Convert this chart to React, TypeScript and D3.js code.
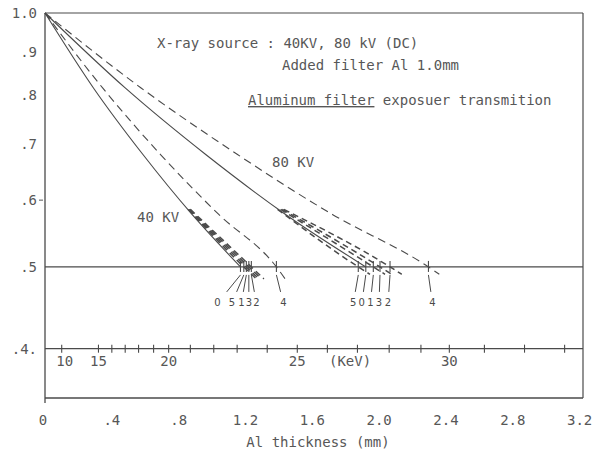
import React from "react";
import * as d3 from "d3";

const W = 597;
const H = 456;

// Transmission axis (log scale)
const transTicks = [1.0, 0.9, 0.8, 0.7, 0.6, 0.5, 0.4];
const transLabels = ["1.0", ".9", ".8", ".7", ".6", ".5", ".4."];

// Thickness axis
const thicknessTicks = [0, 0.4, 0.8, 1.2, 1.6, 2.0, 2.4, 2.8, 3.2];
const thicknessLabels = ["0", ".4", ".8", "1.2", "1.6", "2.0", "2.4", "2.8", "3.2"];

// Effective energy scale: keV value and its half-value thickness in Al (mm)
const kevValues = [10, 15, 16, 17, 18, 19, 20, 21, 22, 23, 24, 25, 26, 27, 28, 29, 30, 31, 32, 33];
const kevHalfValueMm = [0.1, 0.32, 0.4, 0.48, 0.56, 0.65, 0.74, 0.87, 1.01, 1.15, 1.33, 1.51, 1.69, 1.87, 2.06, 2.25, 2.42, 2.63, 2.87, 3.11];
const kevLabeled = [10, 15, 20, 25, 30];

// Transmission curves: [Al thickness mm, transmission]
const kv40Line0 = [[0, 1], [0.29, 0.815], [0.585, 0.68], [0.88, 0.577], [1.17, 0.5]];
const kv40Line5 = [[0.857, 0.585], [1.19, 0.5], [1.265, 0.484]];
const kv40Line1 = [[0.861, 0.585], [1.205, 0.5], [1.28, 0.484]];
const kv40Line3 = [[0.865, 0.585], [1.22, 0.5], [1.295, 0.484]];
const kv40Line2 = [[0.87, 0.585], [1.235, 0.5], [1.31, 0.484]];
const kv40Line4 = [[0, 1], [0.345, 0.815], [0.69, 0.68], [1.04, 0.577], [1.385, 0.5], [1.45, 0.48]];

const kv80Line0 = [[0, 1], [0.48, 0.815], [0.96, 0.68], [1.44, 0.577], [1.92, 0.5]];
const kv80Line5 = [[1.392, 0.585], [1.875, 0.5], [1.945, 0.49]];
const kv80Line1 = [[1.41, 0.585], [1.965, 0.5], [2.035, 0.49]];
const kv80Line3 = [[1.42, 0.585], [2.005, 0.5], [2.075, 0.49]];
const kv80Line2 = [[1.43, 0.585], [2.065, 0.5], [2.135, 0.49]];
const kv80Line4 = [[0, 1], [0.575, 0.815], [1.15, 0.68], [1.72, 0.577], [2.295, 0.5], [2.36, 0.49]];

const curveNames = ["0", "5", "1", "3", "2", "4", "5", "0", "1", "3", "2", "4"];

type Curve = { pts: number[][]; name: string; style: "solid" | "dash" | "bundle"; shift: number };

const curves: Curve[] = [
  { pts: kv40Line0, name: curveNames[0], style: "solid", shift: -23 },
  { pts: kv40Line5, name: curveNames[1], style: "bundle", shift: -12 },
  { pts: kv40Line1, name: curveNames[2], style: "bundle", shift: -5 },
  { pts: kv40Line3, name: curveNames[3], style: "bundle", shift: 0 },
  { pts: kv40Line2, name: curveNames[4], style: "bundle", shift: 5 },
  { pts: kv40Line4, name: curveNames[5], style: "dash", shift: 7 },
  { pts: kv80Line5, name: curveNames[6], style: "bundle", shift: -5 },
  { pts: kv80Line0, name: curveNames[7], style: "solid", shift: -4 },
  { pts: kv80Line1, name: curveNames[8], style: "bundle", shift: -3 },
  { pts: kv80Line3, name: curveNames[9], style: "bundle", shift: -1 },
  { pts: kv80Line2, name: curveNames[10], style: "bundle", shift: -2 },
  { pts: kv80Line4, name: curveNames[11], style: "dash", shift: 4 },
];

const INK = "#4a4a4a";
const TEXT = "#575757";
const MONO = "'DejaVu Sans Mono', 'Liberation Mono', monospace";

export default function App() {
  const x = d3.scaleLinear().domain([0, 3.22]).range([45, 583]);
  const y = d3.scaleLog().domain([1, 0.3496]).range([13, 398]);
  const line = d3
    .line<number[]>()
    .x((d) => x(d[0]))
    .y((d) => y(d[1]))
    .curve(d3.curveMonotoneX);

  const yHalf = y(0.5);
  const yKev = y(0.4);
  const left = x(0);
  const right = x(3.22);
  const top = y(1);
  const bottom = y(0.3496);

  return (
    <svg width={W} height={H} style={{ position: "absolute", left: 0, top: 0, background: "#fff" }}>
      <rect x={0} y={0} width={W} height={H} fill="#fff" />
      {/* frame */}
      <line x1={left} y1={top} x2={right} y2={top} stroke={INK} strokeWidth={1.2} />
      <line x1={right} y1={top} x2={right} y2={bottom} stroke={INK} strokeWidth={1.2} />
      <line x1={left} y1={top} x2={left} y2={bottom + 5} stroke={INK} strokeWidth={1.3} />
      <line x1={left} y1={bottom} x2={right} y2={bottom} stroke={INK} strokeWidth={1.3} />

      {/* 0.5 reference line */}
      <line x1={left} y1={yHalf} x2={right} y2={yHalf} stroke={INK} strokeWidth={1.1} />

      {/* keV scale */}
      <line x1={left} y1={yKev} x2={right} y2={yKev} stroke={INK} strokeWidth={1.3} />
      {kevValues.map((k, i) => (
        <line key={"kt" + k} x1={x(kevHalfValueMm[i])} x2={x(kevHalfValueMm[i])} y1={yKev - 4} y2={yKev + 4} stroke={INK} strokeWidth={1.1} />
      ))}
      {kevLabeled.map((k) => {
        const i = kevValues.indexOf(k);
        return (
          <text key={"kl" + k} x={x(kevHalfValueMm[i]) + (k === 10 ? 3 : 0)} y={yKev + 17} textAnchor="middle" fontFamily={MONO} fontSize={14} fill={TEXT}>
            {k}
          </text>
        );
      })}
      <text x={x(1.826)} y={yKev + 17} textAnchor="middle" fontFamily={MONO} fontSize={14} fill={TEXT}>
        (KeV)
      </text>

      {/* y tick labels */}
      {transTicks.map((t, i) => (
        <text key={"yl" + t} x={37} y={y(t) + 5} textAnchor="end" fontFamily={MONO} fontSize={14} fill={TEXT}>
          {transLabels[i]}
        </text>
      ))}
      <line x1={left - 6} x2={left - 2} y1={y(0.6)} y2={y(0.6)} stroke={TEXT} strokeWidth={1} />

      {/* x tick labels */}
      {thicknessTicks.map((t, i) => (
        <text key={"xl" + t} x={x(t) - (t === 0 ? 2 : 0)} y={425} textAnchor="middle" fontFamily={MONO} fontSize={14} fill={TEXT}>
          {thicknessLabels[i]}
        </text>
      ))}
      <text x={318} y={447} textAnchor="middle" fontFamily={MONO} fontSize={14} fill={TEXT}>
        Al thickness (mm)
      </text>

      {/* curves */}
      {curves.map((c, i) => (
        <path
          key={"c" + i}
          d={line(c.pts) || ""}
          fill="none"
          stroke={INK}
          strokeWidth={c.style === "bundle" ? 1.5 : 1.1}
          strokeDasharray={c.style === "dash" ? "8,5" : c.style === "bundle" ? "6,4" : undefined}
        />
      ))}

      {/* crossing marks, leaders and curve numbers */}
      {curves.map((c, i) => {
        const p = c.pts.find((d) => d[1] === 0.5) as number[];
        const cx = x(p[0]);
        return (
          <g key={"m" + i}>
            <line x1={cx} x2={cx} y1={yHalf - 6} y2={yHalf + 5} stroke={INK} strokeWidth={1.1} />
            <line x1={cx} y1={yHalf + 8} x2={cx + c.shift * 0.6} y2={yHalf + 25} stroke={INK} strokeWidth={1} />
            <text x={cx + c.shift} y={yHalf + 39} textAnchor="middle" fontFamily="'DejaVu Sans', sans-serif" fontSize={10} fill={INK}>
              {c.name}
            </text>
          </g>
        );
      })}

      {/* curve group labels */}
      <text x={137} y={y(0.577) + 8} fontFamily={MONO} fontSize={14} fill={TEXT}>
        40 KV
      </text>
      <text x={272} y={167} fontFamily={MONO} fontSize={14} fill={TEXT}>
        80 KV
      </text>

      {/* annotations */}
      <text x={157} y={48} fontFamily={MONO} fontSize={14} fill={TEXT}>
        X-ray source : 40KV, 80 kV (DC)
      </text>
      <text x={282} y={70} fontFamily={MONO} fontSize={14} fill={TEXT}>
        Added filter Al 1.0mm
      </text>
      <text x={248} y={105} fontFamily={MONO} fontSize={14} fill={TEXT}>
        <tspan textDecoration="underline" style={{ textDecoration: "underline" }}>Aluminum filter</tspan> exposuer transmition
      </text>
    </svg>
  );
}
